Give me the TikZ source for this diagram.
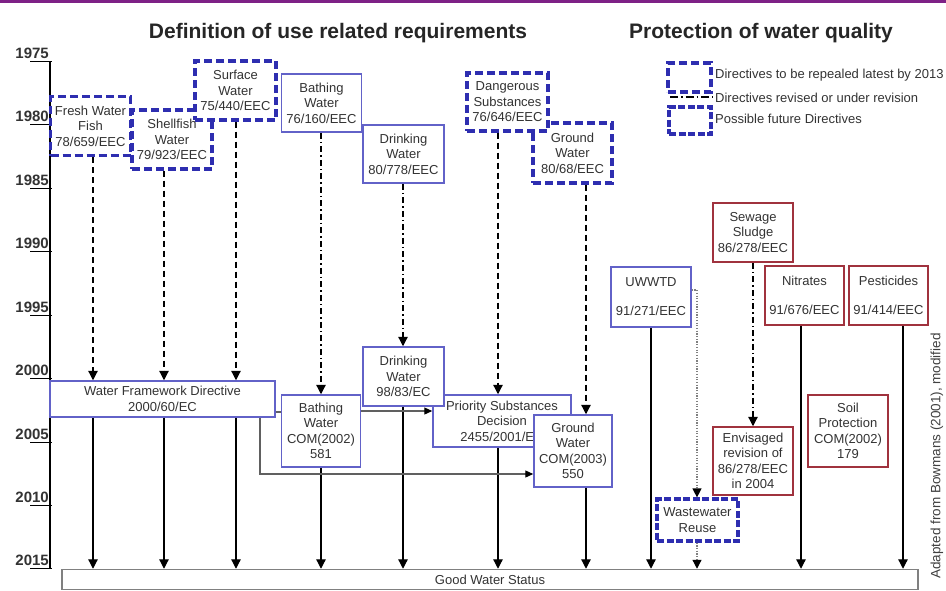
\documentclass[tikz,border=0pt]{standalone}
\usepackage{fontspec}
\setmainfont{Liberation Sans}
\usetikzlibrary{arrows.meta}
\definecolor{bblue}{HTML}{6262C8}
\definecolor{dblue}{HTML}{2E2EB0}
\definecolor{rred}{HTML}{A0323E}
\definecolor{txtgray}{HTML}{333333}
\definecolor{purp}{HTML}{7E2186}
\tikzset{
 txt/.style={font=\fontsize{13}{15.5}\selectfont, text=txtgray, align=center, inner sep=0pt},
 bbox/.style={txt, draw=bblue, line width=1.5pt, fill=white},
 rbox/.style={txt, draw=rred, line width=1.5pt, fill=white},
 dbox/.style={txt, draw=dblue, line width=3.2pt, dash pattern=on 8pt off 4pt, fill=white},
 fbox/.style={txt, draw=dblue, line width=3.2pt, dash pattern=on 7pt off 2.5pt, fill=white},
 gbox/.style={txt, draw=gray, line width=1.5pt, fill=white},
 sz/.style 2 args={minimum width=#1, minimum height=#2},
 arr/.style={-{Triangle[width=9.5pt,length=9.5pt]}, line width=1.2pt, draw=black},
 darr/.style={arr, dash pattern=on 6pt off 4pt},
 ddarr/.style={arr, dash pattern=on 6pt off 3pt on 1.5pt off 3pt},
 grayline/.style={line width=1.2pt, draw=gray!75!black},
 grayarr/.style={grayline, -{Triangle[width=7pt,length=8pt,color=black]}},
 dotarr/.style={line width=1.2pt, draw=gray, dash pattern=on 1.2pt off 1.5pt, -{Triangle[width=9pt,length=9pt,color=black]}},
 yearlab/.style={font=\bfseries\fontsize{15}{16}\selectfont, text=txtgray, inner sep=0pt},
 legtxt/.style={font=\fontsize{13}{14}\selectfont, text=txtgray, inner sep=0pt, anchor=west},
 title/.style={font=\bfseries\fontsize{21}{24}\selectfont, text=black!85, inner sep=0pt},
}
\begin{document}
\begin{tikzpicture}[x=1pt,y=-1pt]
\useasboundingbox (0,0) rectangle (946,590);
\fill[white] (0,0) rectangle (946,590);
\draw[line width=3pt, draw=purp] (0,1.5) -- (946,1.5);

% titles
\node[title] (t1) at (338,33) {Definition of use related requirements};
\node[title] (t2) at (761,33) {Protection of water quality};

% year axis
\draw[line width=1.5pt] (50,61) -- (50,568);
\foreach \yr/\yy in {1975/61,1980/124,1985/188,1990/251,1995/315,2000/378,2005/442,2010/505,2015/568}{
  \node[yearlab, anchor=base east] (y\yr) at (49,\yy-2.5) {\yr};
  \draw[line width=1pt] (30,\yy) -- (52,\yy);
}

% column coordinates
\coordinate (xa) at (93,0);
\coordinate (xb) at (164,0);
\coordinate (xc) at (236,0);
\coordinate (xd) at (321,0);
\coordinate (xe) at (403,0);
\coordinate (xf) at (498,0);
\coordinate (xg) at (586,0);
\coordinate (xh) at (651,0);
\coordinate (xi) at (697,0);
\coordinate (xj) at (753,0);
\coordinate (xk) at (801,0);
\coordinate (xl) at (903,0);
\coordinate (xm) at (260,0);
\coordinate (ry1) at (0,412);
\coordinate (ry2) at (0,411);
\coordinate (ry3) at (0,474);
\coordinate (ry4) at (0,290);

% boxes
\node[dbox, sz={80}{59}] (fish) at (90.5,126) {Fresh Water\\Fish\\78/659/EEC};
\node[dbox, sz={80}{59}] (shell) at (172,139.5) {Shellfish\\Water\\79/923/EEC};
\node[dbox, sz={81}{59}] (surf) at (235.5,90.5) {Surface\\Water\\75/440/EEC};
\node[bbox, sz={80}{58}] (bath1) at (321.5,103) {Bathing\\Water\\76/160/EEC};
\node[bbox, sz={81}{58}] (drink1) at (403.5,154) {Drinking\\Water\\80/778/EEC};
\node[dbox, sz={79}{60}] (gw1) at (572.5,153) {Ground\\Water\\80/68/EEC};
\node[dbox, sz={81}{58}] (dang) at (507.5,102) {Dangerous\\Substances\\76/646/EEC};

\node[bbox, sz={225}{36}] (wfd) at (162.5,399) {Water Framework Directive\\2000/60/EC};
\node[bbox, sz={79}{72}] (bath2) at (321,431) {Bathing\\Water\\COM(2002)\\581};
\node[bbox, sz={138}{52}] (prio) at (502,421) {Priority Substances\\Decision\\2455/2001/EC};
\node[bbox, sz={81}{59}] (drink2) at (403.5,376.5) {Drinking\\Water\\98/83/EC};
\node[bbox, sz={78}{72}] (gw2) at (573,451) {Ground\\Water\\COM(2003)\\550};

\node[bbox, sz={80}{60}] (uw) at (651,297) {UWWTD\\[13.5pt]91/271/EEC};
\node[rbox, sz={80}{59}] (sew) at (753,232.5) {Sewage\\Sludge\\86/278/EEC};
\node[rbox, sz={79}{59}] (nit) at (804.5,295.5) {Nitrates\\[13.5pt]91/676/EEC};
\node[rbox, sz={79}{59}] (pest) at (888.5,295.5) {Pesticides\\[13.5pt]91/414/EEC};
\node[rbox, sz={80}{68}] (env) at (753,461) {Envisaged\\revision of\\86/278/EEC\\in 2004};
\node[rbox, sz={80}{72}] (soil) at (848,431) {Soil\\Protection\\COM(2002)\\179};
\node[fbox, sz={81}{42}] (wr) at (697.5,520) {Wastewater\\Reuse};

\node[gbox, sz={856}{20}] (gws) at (490,579.5) {Good Water Status};

% legend
\node[dbox, sz={43}{29}] (lg1) at (689.5,77.5) {};
\coordinate (lgl) at (670,97);
\coordinate (lgr) at (713,97);
\draw[line width=1.1pt, dash pattern=on 8pt off 3pt on 1.5pt off 3pt] (lgl) -- (lgr);
\node[fbox, sz={42}{27}] (lg3) at (690,120.5) {};
\node[legtxt] (lt1) at (715,75) {Directives to be repealed latest by 2013};
\node[legtxt] (lt2) at (715,97.5) {Directives revised or under revision};
\node[legtxt] (lt3) at (715,119) {Possible future Directives};

% source
\node[rotate=90, font=\fontsize{13.5}{14}\selectfont, text=black!75, inner sep=0pt] (src) at (937,456) {Adapted from Bowmans (2001), modified};

% connectors: old directives to new
\draw[darr] (fish.south -| xa) -- (wfd.north -| xa);
\draw[darr] (shell.south -| xb) -- (wfd.north -| xb);
\draw[darr] (surf.south -| xc) -- (wfd.north -| xc);
\draw[ddarr] (bath1.south -| xd) -- (bath2.north -| xd);
\draw[ddarr] (drink1.south -| xe) -- (drink2.north -| xe);
\draw[darr] (dang.south -| xf) -- (prio.north -| xf);
\draw[darr] (gw1.south -| xg) -- (gw2.north -| xg);
\draw[ddarr] (sew.south -| xj) -- (env.north -| xj);

% connectors to good water status
\draw[arr] (wfd.south -| xa) -- (gws.north -| xa);
\draw[arr] (wfd.south -| xb) -- (gws.north -| xb);
\draw[arr] (wfd.south -| xc) -- (gws.north -| xc);
\draw[arr] (bath2.south -| xd) -- (gws.north -| xd);
\draw[arr] (drink2.south -| xe) -- (gws.north -| xe);
\draw[arr] (prio.south -| xf) -- (gws.north -| xf);
\draw[arr] (gw2.south -| xg) -- (gws.north -| xg);
\draw[arr] (uw.south -| xh) -- (gws.north -| xh);
\draw[arr] (nit.south -| xk) -- (gws.north -| xk);
\draw[arr] (pest.south -| xl) -- (gws.north -| xl);

% gray links
\draw[grayline] (wfd.east |- ry1) -- (bath2.west |- ry1);
\draw[grayarr] (bath2.east |- ry2) -- (prio.west |- ry2);
\draw[grayarr] (wfd.south -| xm) |- (gw2.west |- ry3);

% dotted links
\draw[dotarr] (uw.east |- ry4) -| (wr.north -| xi);
\draw[dotarr] (wr.south -| xi) -- (gws.north -| xi);
\end{tikzpicture}
\end{document}
